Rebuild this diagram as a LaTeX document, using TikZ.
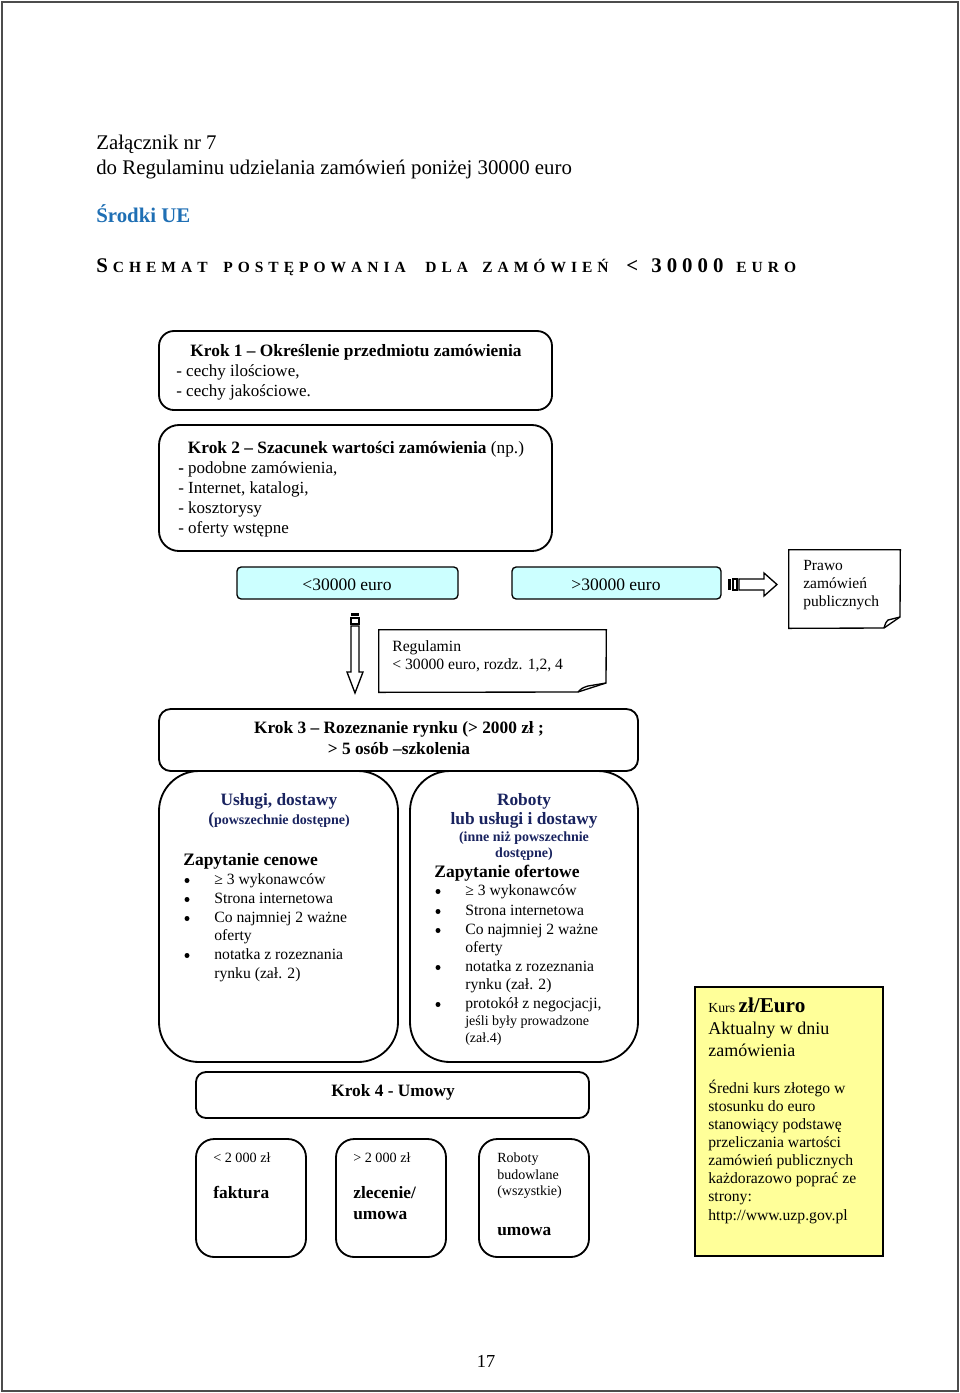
\documentclass[tikz,border=0pt]{standalone}
\usepackage{fontspec}
\setmainfont{Liberation Serif}
\usetikzlibrary{fit}
\definecolor{ueblue}{RGB}{31,111,180}
\definecolor{navy}{RGB}{25,35,95}
\definecolor{cyanfill}{RGB}{204,255,255}
\definecolor{yellowfill}{RGB}{255,255,153}
\ExplSyntaxOn
\NewDocumentCommand\spc{m}{\tl_map_inline:nn{#1}{##1\kern3pt}}
\ExplSyntaxOff
\newcommand\fs[1]{\fontsize{#1}{#1}\selectfont}
\begin{document}
\begin{tikzpicture}[x=0.6pt,y=-0.6pt,
  txt/.style={inner sep=0pt, anchor=base west, font=\fs{9.4}},
  ctxt/.style={inner sep=0pt, anchor=base, font=\fs{9.4}},
  box/.style={draw, line width=1.1pt, inner sep=0pt},
  notebox/.style={inner sep=0pt},
  bul/.style={fill=black},
  arr/.style={draw, line width=0.8pt, fill=white, line join=miter}]
\useasboundingbox (0,0) rectangle (960,1393);
\draw[gray!60!black, line width=1.6pt] (2,2) rectangle (958,1391);

% header
\node[txt, font=\fs{12.5}] (h1) at (96,149) {Załącznik nr 7};
\node[txt, font=\fs{12.5}] (h2) at (96,174) {do Regulaminu udzielania zamówień poniżej 30000 euro};
\node[txt, font=\fs{12.5}\bfseries, text=ueblue] (h3) at (96,222) {Środki UE};
\begin{scope}[every node/.style={txt, font=\fs{9.3}\bfseries}]
\node (w1) at (96,272) {{\fs{12.5}S}\kern3pt\spc{CHEMAT}};
\node (w2) at (223,272) {\spc{POSTĘPOWANIA}};
\node (w3) at (425,272) {\spc{DLA}};
\node (w4) at (482,272) {\spc{ZAMÓWIEŃ}};
\node (w5) at (626,272) {{\fs{12.5}<}};
\node (w6) at (651,272) {{\fs{12.5}\spc{30000}}};
\node (w7) at (736,272) {\spc{EURO}};
\end{scope}

% Krok 1
\node[box, rounded corners=9pt, fit={(159,331)(552,410)}] (k1) {};
\node[ctxt, font=\fs{10.4}\bfseries] (k1t) at (356,356) {Krok 1 – Określenie przedmiotu zamówienia};
\node[txt, font=\fs{10.2}] (k1a) at (176,376) {- cechy ilościowe,};
\node[txt, font=\fs{10.2}] (k1b) at (176,396) {- cechy jakościowe.};

% Krok 2
\node[box, rounded corners=12pt, fit={(159,425)(552,551)}] (k2) {};
\node[ctxt, font=\fs{10.4}] (k2t) at (356,453) {\textbf{Krok 2 – Szacunek wartości zamówienia} (np.)};
\node[txt, font=\fs{10.2}] (k2a) at (178,473) {\textbf{-} podobne zamówienia,};
\node[txt, font=\fs{10.2}] (k2b) at (178,493) {- Internet, katalogi,};
\node[txt, font=\fs{10.2}] (k2c) at (178,513) {- kosztorysy};
\node[txt, font=\fs{10.2}] (k2d) at (178,533) {- oferty wstępne};

% threshold boxes
\node[draw, line width=0.8pt, fill=cyanfill, rounded corners=2.5pt, inner sep=0pt, fit={(237,567)(458,599)}] (lt) {};
\node[ctxt, font=\fs{10.5}] (ltt) at (347,590) {<30000 euro};
\node[draw, line width=0.8pt, fill=cyanfill, rounded corners=2.5pt, inner sep=0pt, fit={(512,567)(721,599)}] (gt) {};
\node[ctxt, font=\fs{10.5}] (gtt) at (616,590) {>30000 euro};

% right block arrow
\fill (728,579) rectangle (731,590);
\draw[line width=0.8pt] (733,579) rectangle (737,590);
\draw[arr] (739,579) -- (764,579) -- (764,573) -- (777,584.5) -- (764,596) -- (764,590) -- (739,590) -- cycle;

% Prawo note
\node[notebox, fit={(789,550)(900,628)}] (pz) {};
\draw[line width=0.8pt, line join=miter] (pz.north west) -- (pz.north east) -- (900,617) -- (884,628) -- (pz.south west) -- cycle;
\draw[line width=0.8pt] (884,628) .. controls (886,622) .. (888,620) -- (900,617);
\node[txt, font=\fs{9.3}] (pz1) at (803,570) {Prawo};
\node[txt, font=\fs{9.3}] (pz2) at (803,588) {zamówień};
\node[txt, font=\fs{9.3}] (pz3) at (803,606) {publicznych};

% down block arrow
\fill (351,613) rectangle (359,616);
\draw[line width=0.8pt] (351,618) rectangle (359,624);
\draw[arr] (351,626) -- (351,672) -- (347,672) -- (355,693) -- (363,672) -- (359,672) -- (359,626) -- cycle;

% Regulamin note
\node[notebox, fit={(379,630)(606,692)}] (rg) {};
\draw[line width=0.8pt, line join=miter] (rg.north west) -- (rg.north east) -- (606,683) -- (578,692) -- (rg.south west) -- cycle;
\draw[line width=0.8pt] (578,692) .. controls (582,688) .. (588,686) -- (606,683);
\node[txt] (rg1) at (392,651) {Regulamin};
\node[txt] (rg2) at (392,669) {< 30000 euro, rozdz. 1,2, 4};

% Krok 3
\node[box, rounded corners=7pt, fit={(159,709)(638,771)}] (k3) {};
\node[ctxt, font=\fs{10.4}\bfseries] (k3a) at (399,733) {Krok 3 – Rozeznanie rynku (> 2000 zł ;};
\node[ctxt, font=\fs{10.4}\bfseries] (k3b) at (399,754) {> 5 osób –szkolenia};

% left big box
\node[box, rounded corners=24pt, fit={(159,771)(398,1062)}] (lb) {};
\node[ctxt, font=\fs{10.4}\bfseries, text=navy] (lb1) at (279,805) {Usługi, dostawy};
\node[ctxt, font=\fs{8.4}\bfseries, text=navy] (lb2) at (279,824) {{\fs{10.4}(}powszechnie dostępne)};
\node[txt, font=\fs{10.5}\bfseries] (lb3) at (183,865) {Zapytanie cenowe};
\foreach \y/\t [count=\i] in {884/{≥ 3 wykonawców},903/{Strona internetowa},922/{Co najmniej 2 ważne},940/{oferty},959/{notatka z rozeznania},978/{rynku (zał. 2)}}
  \node[txt] (li\i) at (214,\y) {\t};
\foreach \y in {884,903,922,959}
  \fill (187,\y-3.5) circle[radius=1.5pt];

% right big box
\node[box, rounded corners=24pt, fit={(410,771)(638,1062)}] (rb) {};
\node[ctxt, font=\fs{10.4}\bfseries, text=navy] (rb1) at (524,805) {Roboty};
\node[ctxt, font=\fs{10.4}\bfseries, text=navy] (rb2) at (524,824) {lub usługi i dostawy};
\node[ctxt, font=\fs{8.4}\bfseries, text=navy] (rb3) at (524,841) {(inne niż powszechnie};
\node[ctxt, font=\fs{8.4}\bfseries, text=navy] (rb4) at (524,857) {dostępne)};
\node[txt, font=\fs{10.5}\bfseries] (rb5) at (434,877) {Zapytanie ofertowe};
\foreach \y/\t [count=\i] in {895/{≥ 3 wykonawców},915/{Strona internetowa},934/{Co najmniej 2 ważne},952/{oferty},971/{notatka z rozeznania},989/{rynku (zał. 2)},1008/{protokół z negocjacji,}}
  \node[txt] (ri\i) at (465,\y) {\t};
\node[txt, font=\fs{8.4}] (ri8) at (465,1025) {jeśli były prowadzone};
\node[txt, font=\fs{8.4}] (ri9) at (465,1042) {(zał.4)};
\foreach \y in {895,915,934,971,1008}
  \fill (438,\y-3.5) circle[radius=1.5pt];

% Kurs box
\node[draw, line width=1.1pt, fill=yellowfill, inner sep=0pt, fit={(695,987)(883,1256)}] (ks) {};
\node[txt, font=\fs{8.3}] (ks1) at (708,1012) {Kurs {\fs{12.7}\bfseries zł/Euro}};
\node[txt, font=\fs{10.8}] (ks2) at (708,1034) {Aktualny w dniu};
\node[txt, font=\fs{10.8}] (ks3) at (708,1056) {zamówienia};
\foreach \y/\t [count=\i] in {1093/{Średni kurs złotego w},1111/{stosunku do euro},1129/{stanowiący podstawę},1147/{przeliczania wartości},1165/{zamówień publicznych},1183/{każdorazowo poprać ze},1201/{strony:},1220/{http://www.uzp.gov.pl}}
  \node[txt] (kt\i) at (708,\y) {\t};

% Krok 4
\node[box, rounded corners=6pt, fit={(196,1072)(589,1118)}] (k4) {};
\node[ctxt, font=\fs{10.4}\bfseries] (k4t) at (393,1096) {Krok 4 - Umowy};

\node[box, rounded corners=11pt, fit={(196,1139)(306,1257)}] (u1) {};
\node[txt, font=\fs{8.5}] (u1a) at (213,1162) {< 2 000 zł};
\node[txt, font=\fs{10.4}\bfseries] (u1b) at (213,1198) {faktura};

\node[box, rounded corners=11pt, fit={(336,1139)(446,1257)}] (u2) {};
\node[txt, font=\fs{8.5}] (u2a) at (353,1162) {> 2 000 zł};
\node[txt, font=\fs{10.4}\bfseries] (u2b) at (353,1198) {zlecenie/};
\node[txt, font=\fs{10.4}\bfseries] (u2c) at (353,1219) {umowa};

\node[box, rounded corners=11pt, fit={(479,1139)(589,1257)}] (u3) {};
\node[txt, font=\fs{8.4}] (u3a) at (497,1162) {Roboty};
\node[txt, font=\fs{8.4}] (u3b) at (497,1179) {budowlane};
\node[txt, font=\fs{8.4}] (u3c) at (497,1195) {(wszystkie)};
\node[txt, font=\fs{10.4}\bfseries] (u3d) at (497,1235) {umowa};

\node[ctxt, font=\fs{11}] (pg) at (486,1367) {17};
\end{tikzpicture}
\end{document}
